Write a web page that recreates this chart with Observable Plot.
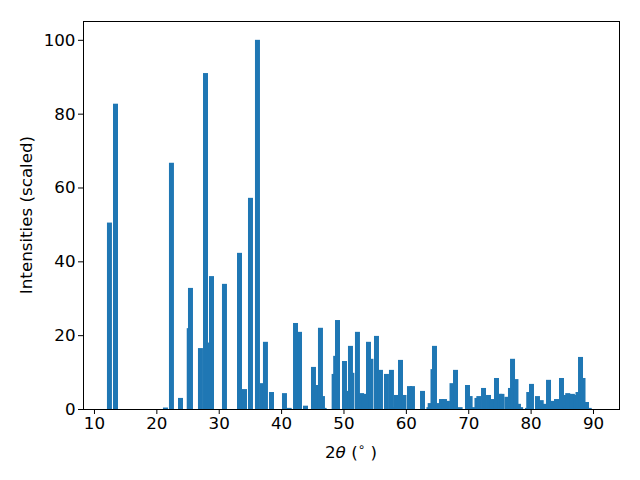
<!DOCTYPE html>
<html>
<head>
<meta charset="utf-8">
<script src="https://cdn.jsdelivr.net/npm/d3@7"></script>
<script src="https://cdn.jsdelivr.net/npm/@observablehq/plot@0.6"></script>
<style>
  html, body { margin: 0; padding: 0; background: #fff; }
  #chart svg { display: block; }
  #chart svg g[aria-label$="tick label"] { font-size: 16.7px; font-family: "DejaVu Sans"; }
</style>
</head>
<body>
<div id="chart"></div>
<script>
const twoTheta = [12.48, 13.45, 21.46, 22.42, 23.87, 25.27, 25.47, 27.07, 27.88, 28.52, 28.84, 30.92,
  33.33, 34.13, 35.09, 36.21, 37.01, 37.49, 38.46, 40.54, 41.3, 42.31, 42.95, 43.91,
  45.19, 45.75, 46.31, 46.63, 46.9, 48.5, 48.75, 49.04, 50.16, 50.45, 51.12, 51.35,
  52.24, 52.9, 53.3, 54.01, 54.4, 55.29, 55.93, 56.89, 57.69, 58.3, 58.5, 59.14,
  59.7, 60.58, 61.06, 62.67, 63.7, 63.9, 64.35, 64.59, 65.1, 65.71, 66.19, 66.67,
  67.4, 67.96, 68.7, 69.88, 70.3, 70.95, 71.4, 71.7, 72.45, 73.25, 73.8, 74.53,
  75.05, 75.4, 76.2, 76.77, 77.1, 77.65, 78.05, 78.4, 79.5, 79.7, 80.14, 81.1,
  81.7, 82.2, 82.87, 83.6, 84.15, 84.95, 85.45, 85.7, 85.95, 86.7, 87.3, 87.6,
  88.0, 88.4, 88.96, 89.4];
const intensity = [50.5, 82.7, 0.4, 66.7, 3.0, 21.9, 32.8, 16.5, 91.0, 18.0, 36.0, 33.9,
  42.3, 5.4, 57.2, 100, 7.0, 18.2, 4.6, 4.3, 0.3, 23.3, 20.9, 0.9,
  11.4, 6.5, 22.0, 3.5, 0.3, 9.5, 14.4, 24.1, 13.0, 4.9, 17.1, 9.8,
  20.9, 4.3, 4.1, 18.2, 13.6, 19.8, 10.6, 9.5, 10.6, 0.5, 3.8, 13.3,
  3.8, 6.2, 6.2, 4.9, 0.5, 1.6, 10.8, 17.1, 1.6, 2.7, 2.7, 2.2,
  7.0, 10.6, 0.5, 6.5, 3.5, 0.5, 3.0, 3.5, 5.7, 3.8, 2.7, 8.4,
  4.1, 4.1, 3.3, 5.7, 13.6, 8.1, 1.4, 0.5, 0.3, 4.6, 6.8, 3.5,
  2.4, 1.4, 7.9, 2.2, 2.7, 8.4, 0.5, 3.8, 4.3, 4.1, 3.8, 4.6,
  14.1, 8.4, 1.9, 0.3];
const xTicks = [10, 20, 30, 40, 50, 60, 70, 80, 90];
const yTicks = [0, 20, 40, 60, 80, 100];
const barWidth = 0.8;

const data = twoTheta.map((x, i) => ({x, y: intensity[i]}));

const chart = Plot.plot({
  width: 640,
  height: 480,
  marginLeft: 83,
  marginRight: 21,
  marginTop: 21,
  marginBottom: 71,
  style: {fontFamily: "DejaVu Sans", fontSize: "16.7px", color: "#000", background: "#fff"},
  x: {domain: [8.24, 94.17], label: null},
  y: {domain: [0, 105.1], label: null},
  marks: [
    Plot.rectY(data, {x1: d => d.x - barWidth / 2, x2: d => d.x + barWidth / 2, y1: 0, y2: "y", fill: "#1f77b4", inset: 0}),
    Plot.axisX({ticks: xTicks, tickSize: 5, tickPadding: 3, label: null}),
    Plot.axisY({ticks: yTicks, tickSize: 5, tickPadding: 3, label: null}),
    Plot.frame({stroke: "#000", strokeWidth: 1})
  ]
});
document.getElementById("chart").appendChild(chart);

const svg = d3.select(chart);
// x label: 2θ (°)
const xl = svg.append("text")
  .attr("x", 351)
  .attr("y", 458)
  .attr("text-anchor", "middle")
  .attr("font-family", "DejaVu Sans")
  .attr("font-size", 16.7)
  .attr("fill", "#000");
xl.append("tspan").text("2");
xl.append("tspan").attr("font-style", "italic").text("θ");
xl.append("tspan").text(" (");
xl.append("tspan").attr("font-size", 12).attr("dy", -7).text("∘");
xl.append("tspan").attr("dy", 7).text(" )");
// y label
svg.append("text")
  .attr("transform", "translate(32,215) rotate(-90)")
  .attr("text-anchor", "middle")
  .attr("font-family", "DejaVu Sans")
  .attr("font-size", 16.7)
  .attr("fill", "#000")
  .text("Intensities (scaled)");
</script>
</body>
</html>
